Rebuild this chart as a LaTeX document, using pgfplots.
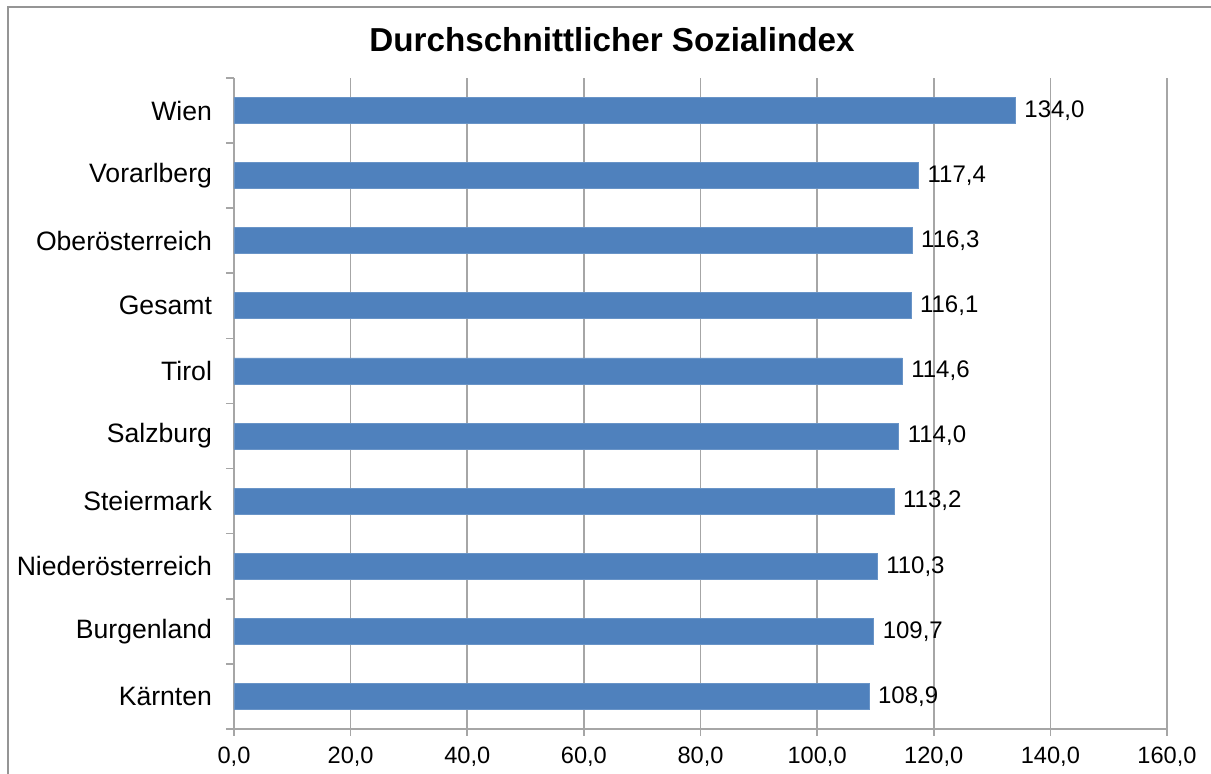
\documentclass[border=0pt]{standalone}
\usepackage{pgfplots}
\pgfplotsset{compat=1.18}
\usepackage{fontspec}
\setmainfont{Liberation Sans}
\definecolor{barblue}{HTML}{4F81BD}
\definecolor{gridgray}{HTML}{A6A6A6}
\begin{document}
\begin{tikzpicture}
\path[use as bounding box] (-117pt,-22.5pt) rectangle (488.5pt,364.5pt);
\draw[color=gridgray!90!black, line width=0.8pt] (-113pt,-30pt) -- (-113pt,361pt) -- (500pt,361pt);
\node[font=\bfseries\fontsize{16.6}{19}\selectfont] at (189pt,344.5pt) {Durchschnittlicher Sozialindex};
\begin{axis}[
  at={(0pt,0pt)}, anchor=south west,
  scale only axis,
  width=466.5pt, height=325.5pt,
  xbar, bar width=13pt,
  xmin=0, xmax=160,
  ymin=-0.5, ymax=9.5,
  xtick={0,20,...,160},
  ytick={0,...,9},
  yticklabels={Kärnten,Burgenland,Niederösterreich,Steiermark,Salzburg,Tirol,Gesamt,Oberösterreich,Vorarlberg,Wien},
  minor ytick={-0.5,0.5,...,9.5},
  axis x line*=bottom, axis y line*=left,
  axis line style={gridgray, line width=0.8pt, -},
  tick align=outside,
  major tick length=3.5pt,
  minor tick length=4pt,
  tick style={gridgray, line width=0.8pt},
  major y tick style={draw=none},
  minor y tick style={draw=gridgray, line width=0.8pt},
  xmajorgrids, grid style={gridgray, line width=0.8pt},
  /pgf/number format/.cd, fixed, fixed zerofill, precision=1, use comma, assume math mode=true,
  /pgfplots/.cd,
  xticklabel style={font=\fontsize{11.8}{14}\selectfont, yshift=-2pt},
  yticklabel style={font=\fontsize{13.3}{16}\selectfont, xshift=-4pt},
  point meta=x,
  nodes near coords,
  nodes near coords style={font=\fontsize{12}{14}\selectfont, black, xshift=1pt},
]
\addplot[fill=barblue, draw=barblue!85!white] coordinates {
 (108.9,0) (109.7,1) (110.3,2) (113.2,3) (114.0,4) (114.6,5) (116.1,6) (116.3,7) (117.4,8) (134.0,9)
};
\end{axis}
\end{tikzpicture}
\end{document}
